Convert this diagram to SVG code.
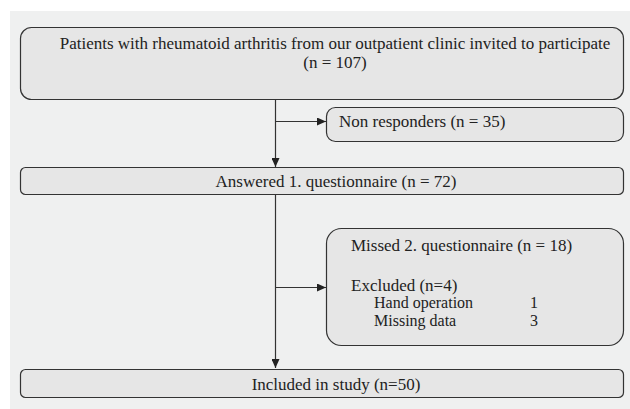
<svg xmlns="http://www.w3.org/2000/svg" width="630" height="409" viewBox="0 0 630 409">
<defs>
<style>
.box{fill:#e6e6e6;stroke:#333;stroke-width:1.2}
.t{font-family:'Liberation Serif','Times New Roman',serif;font-size:17px;fill:#222}
.s{font-size:16px}
.c{text-anchor:middle}
.ln{stroke:#333;stroke-width:1.2;fill:none}
</style>
<marker id="ah" markerWidth="9" markerHeight="8" refX="9" refY="4" orient="auto" markerUnits="userSpaceOnUse">
<path d="M0,0 L9,4 L0,8 Z" fill="#222"/>
</marker>
</defs>
<rect x="10" y="11" width="620" height="398" fill="#eff0f0"/>
<g id="connectors">
<line class="ln" x1="275.5" y1="99" x2="275.5" y2="167" marker-end="url(#ah)"/>
<line class="ln" x1="275.5" y1="121.5" x2="326" y2="121.5" marker-end="url(#ah)"/>
<line class="ln" x1="275.5" y1="194" x2="275.5" y2="368" marker-end="url(#ah)"/>
<line class="ln" x1="275.5" y1="287.5" x2="326" y2="287.5" marker-end="url(#ah)"/>
</g>
<g id="invited">
<rect class="box" x="20.5" y="27.5" width="603" height="72" rx="11"/>
<text class="t c" x="335" y="49">Patients with rheumatoid arthritis from our outpatient clinic invited to participate</text>
<text class="t c" x="335" y="68">(n = 107)</text>
</g>
<g id="nonresponders">
<rect class="box" x="326.5" y="107.5" width="297" height="34" rx="9"/>
<text class="t" x="339" y="127">Non responders (n = 35)</text>
</g>
<g id="answered">
<rect class="box" x="20.5" y="167.5" width="603" height="27" rx="5"/>
<text class="t c" x="336" y="186.5">Answered 1. questionnaire (n = 72)</text>
</g>
<g id="missed">
<rect class="box" x="326.5" y="228.5" width="297" height="117" rx="15"/>
<text class="t" x="351" y="251">Missed 2. questionnaire (n = 18)</text>
<text class="t" x="351" y="291">Excluded (n=4)</text>
<text class="t s" x="374" y="308">Hand operation</text>
<text class="t s" x="530" y="308">1</text>
<text class="t s" x="374" y="326">Missing data</text>
<text class="t s" x="530" y="326">3</text>
</g>
<g id="included">
<rect class="box" x="20.5" y="369.5" width="603" height="28" rx="5"/>
<text class="t c" x="336" y="389.5">Included in study (n=50)</text>
</g>
</svg>
